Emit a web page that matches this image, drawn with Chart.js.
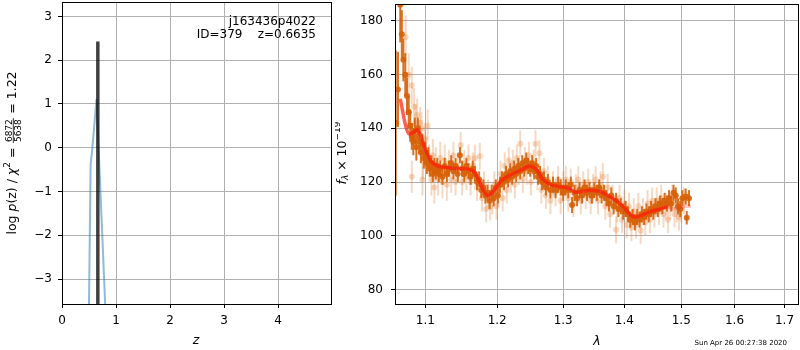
<!doctype html>
<html lang="en">
  <head>
    <meta charset="utf-8">
    <title>Redshift fit j163436p4022</title>
    <style>
      * { margin: 0; padding: 0; }
      body { width: 800px; height: 350px; background: #fff; position: relative; overflow: hidden; }
      canvas { position: absolute; top: 0; }
      #pz { left: 0; }
      #spec { left: 335px; }
    </style>
  </head>
  <body>
    <canvas id="pz" width="335" height="350"></canvas>
    <canvas id="spec" width="467" height="350"></canvas>
    <script src="https://cdn.jsdelivr.net/npm/chart.js"></script>
    <script>
    // ---- data: left panel, p(z)
    const zBest = 0.6635;
    const zBestPeak = 2.43;
    const pzZ = [0.49, 0.53, 0.555, 0.64, 0.81];
    const pzLogp = [-4.6, -0.37, -0.1, 1.12, -3.9];
    const pzXTicks = [0, 1, 2, 3, 4];
    const pzYTicks = [-3, -2, -1, 0, 1, 2, 3];

    // ---- data: right panel, spectrum
    const specXTicks = [1.1, 1.2, 1.3, 1.4, 1.5, 1.6, 1.7];
    const specYTicks = [80, 100, 120, 140, 160, 180];

    const modelLam = [1.067, 1.070, 1.074, 1.078, 1.083, 1.090, 1.099, 1.107, 1.116, 1.128, 1.146, 1.164,
      1.173, 1.180, 1.187, 1.197, 1.207, 1.222, 1.237, 1.247, 1.257, 1.267, 1.278, 1.293, 1.309, 1.320,
      1.336, 1.358, 1.375, 1.392, 1.403, 1.415, 1.427, 1.445, 1.463, 1.475];
    const modelFlux = [151, 146.5, 141, 138, 138.3, 139.3, 133, 128, 126, 125.4, 125, 124.4,
      121, 117, 115, 117.5, 120.7, 123, 124.7, 125.9, 125, 121.4, 119.3, 118.3, 117.7, 116.2,
      116.8, 116.6, 114.6, 112.1, 109.6, 107.1, 107.4, 109, 110, 110.8];
    const tailLam = [1.475, 1.487, 1.505, 1.518];
    const tailFlux = [110.8, 110, 110.9, 111];

    const darkLam = [1.0611, 1.064, 1.067, 1.069, 1.071, 1.0735, 1.0757, 1.078, 1.080, 1.082, 1.084, 1.086,
      1.088, 1.090, 1.092, 1.094, 1.096, 1.098, 1.100, 1.102, 1.104, 1.106, 1.108, 1.110, 1.112, 1.114,
      1.116, 1.118, 1.120, 1.123, 1.126, 1.129, 1.132, 1.135, 1.138, 1.141, 1.144, 1.147, 1.150, 1.153,
      1.156, 1.159, 1.162, 1.165, 1.168, 1.171, 1.174, 1.177, 1.180, 1.183, 1.186, 1.189, 1.192, 1.195,
      1.198, 1.201, 1.204, 1.207, 1.210, 1.213, 1.216, 1.219, 1.222, 1.225, 1.228, 1.231, 1.234, 1.237,
      1.240, 1.243, 1.246, 1.249, 1.252, 1.255, 1.258, 1.261, 1.264, 1.267, 1.270, 1.273, 1.276, 1.280,
      1.284, 1.288, 1.292, 1.296, 1.300, 1.304, 1.308, 1.312, 1.314, 1.318, 1.322, 1.326, 1.330, 1.334,
      1.338, 1.342, 1.346, 1.350, 1.354, 1.358, 1.362, 1.366, 1.370, 1.374, 1.378, 1.382, 1.386, 1.390,
      1.394, 1.398, 1.402, 1.406, 1.410, 1.414, 1.418, 1.422, 1.426, 1.430, 1.434, 1.438, 1.442, 1.446,
      1.450, 1.454, 1.458, 1.462, 1.466, 1.470, 1.474, 1.478, 1.482, 1.486, 1.490, 1.494, 1.498, 1.502,
      1.508, 1.510, 1.514];
    const darkFlux = [142, 154.5, 186, 175, 165.5, 160, 152, 146, 141, 137, 135, 139,
      133, 140, 135, 131, 134, 129, 131, 127, 129, 125, 127, 123, 126, 124,
      126, 123, 125, 122, 126, 123, 125, 127, 124, 126, 123, 130, 125, 123,
      126, 124, 122, 125, 123, 120, 121, 117, 118, 115, 116, 113, 116, 114,
      118, 115, 119, 121, 120, 123, 121, 124, 122, 125, 123, 126, 124, 127,
      125, 128, 126, 125, 127, 124, 126, 122, 123, 120, 121, 118, 120, 117,
      119, 117, 119, 118, 116, 118, 117, 119, 111.5, 116, 114, 117, 115, 118,
      116, 117, 115, 117, 116, 118, 115, 116, 114, 112, 115, 111, 113, 110,
      111, 109, 110, 108, 106, 107, 105, 107, 106, 108, 107, 109, 108, 110,
      109, 111, 110, 112, 111, 113, 112, 114, 112, 116, 115, 111, 110, 114,
      114.6, 106.7, 114];
    const darkErr = [27, 14, 14, 9, 8, 8, 7, 6, 6, 5, 5, 5,
      5, 4, 4, 4, 4, 4, 4, 4, 4, 3, 3, 3, 3, 3,
      3, 3, 3, 3, 3, 3, 3, 3, 3, 3, 3, 3, 3, 3,
      3, 3, 3, 3, 3, 3, 3, 3, 3, 3, 3, 3, 3, 3,
      3, 3, 3, 3, 3, 3, 3, 3, 3, 3, 3, 3, 3, 3,
      3, 3, 3, 3, 3, 3, 3, 3, 3, 3, 3, 3, 3, 3,
      3, 3, 3, 3, 3, 3, 3, 3, 3, 3, 3, 3, 3, 3,
      3, 3, 3, 3, 3, 3, 3, 3, 3, 3, 3, 3, 3, 3,
      3, 3, 3, 3, 3, 3, 3, 3, 3, 3, 3, 3, 3, 3,
      3, 3, 3, 3, 3, 3, 3, 3, 3, 3, 3, 3, 3, 3,
      3, 2.5, 3];

    const lightLam = [1.074, 1.078, 1.082, 1.082, 1.085, 1.087, 1.089, 1.091, 1.093, 1.095, 1.096, 1.097,
      1.099, 1.101, 1.103, 1.105, 1.108, 1.110, 1.112, 1.114, 1.117, 1.120, 1.123, 1.126, 1.129, 1.132,
      1.135, 1.138, 1.141, 1.144, 1.148, 1.150, 1.153, 1.156, 1.159, 1.162, 1.165, 1.168, 1.171, 1.175,
      1.178, 1.181, 1.184, 1.187, 1.190, 1.193, 1.196, 1.199, 1.202, 1.205, 1.208, 1.211, 1.214, 1.217,
      1.220, 1.223, 1.226, 1.229, 1.232, 1.234, 1.238, 1.241, 1.244, 1.247, 1.250, 1.254, 1.257, 1.260,
      1.263, 1.266, 1.270, 1.273, 1.276, 1.280, 1.284, 1.288, 1.292, 1.296, 1.300, 1.304, 1.308, 1.312,
      1.316, 1.320, 1.324, 1.328, 1.332, 1.336, 1.340, 1.344, 1.348, 1.352, 1.356, 1.360, 1.364, 1.368,
      1.372, 1.376, 1.380, 1.386, 1.388, 1.392, 1.396, 1.400, 1.404, 1.408, 1.412, 1.416, 1.420, 1.424,
      1.428, 1.432, 1.436, 1.440, 1.444, 1.448, 1.452, 1.456, 1.460, 1.464, 1.468, 1.472, 1.476, 1.480,
      1.484, 1.488, 1.492, 1.496, 1.500, 1.505];
    const lightFlux = [174, 160, 156, 122, 148, 142, 145, 137, 142, 140, 121, 128,
      136, 131, 141, 128, 121, 130, 118, 127, 121, 129, 120, 128, 119, 127,
      121, 130, 120, 126, 133.7, 120, 127, 122, 129, 120, 126, 129, 118, 129.6,
      114, 119, 110, 116, 110.7, 113, 119, 111, 116, 123, 114, 126, 117, 128,
      121, 127, 119, 129, 124, 134.3, 121, 128, 124, 130, 120, 127, 134.3, 122,
      130.7, 117, 124, 115, 121, 113, 119, 116, 121, 113, 119, 121, 114, 120,
      112, 118, 121, 113, 119, 115, 120, 113, 118, 121, 113, 119, 122, 111,
      118, 108, 114, 102.2, 110, 114, 106, 112, 104, 111, 103, 109, 104, 111,
      102, 109, 105, 112, 106, 113, 108, 113, 109, 114, 108, 111, 106, 111,
      114, 108, 110, 107, 110, 113];
    const lightErr = [8, 8, 7, 6, 7, 7, 6, 6, 6, 6, 6, 7,
      6, 6, 6, 6, 6, 6, 6, 6, 6, 6, 6, 6, 6, 5,
      5, 5, 5, 5, 5, 5, 5, 5, 5, 5, 5, 5, 5, 5,
      5, 5, 5, 5, 5, 5, 5, 5, 5, 5, 5, 5, 5, 5,
      5, 5, 5, 5, 5, 5, 5, 5, 5, 5, 5, 5, 5, 5,
      5, 5, 5, 5, 5, 5, 5, 5, 5, 5, 5, 5, 5, 5,
      5, 5, 5, 5, 5, 5, 5, 5, 5, 5, 5, 5, 5, 5,
      5, 5, 5, 5, 5, 5, 5, 5, 5, 5, 5, 5, 5, 5,
      5, 5, 5, 5, 5, 5, 5, 5, 5, 5, 5, 5, 5, 5,
      5, 5, 5, 5, 5, 5];

    const FONT = '"DejaVu Sans"';
    const DARK = 'rgba(214,96,8,0.9)';
    const LIGHT = 'rgba(228,118,40,0.28)';

    const zip = (xs, ys) => xs.map((x, i) => ({x: x, y: ys[i]}));
    const minus = v => (v < 0 ? '\u2212' + Math.abs(v) : String(v));

    // fixed axis box + explicit ticks, so the plot areas line up with the reference
    function axis(type, min, max, ticks, size, fmt, pad) {
      return {
        type: type, min: min, max: max,
        afterBuildTicks: s => { s.ticks = ticks.map(v => ({value: v})); },
        afterFit: s => {
          if (s.isHorizontal()) s.height = size; else s.width = size;
          s.paddingLeft = s.paddingRight = s.paddingTop = s.paddingBottom = 0;
        },
        grid: {color: '#b0b0b0', lineWidth: 1, tickColor: '#000', tickLength: 4},
        border: {color: '#000', width: 1},
        ticks: {color: '#000', font: {family: FONT, size: 12}, padding: pad, callback: fmt, maxRotation: 0, autoSkip: false}
      };
    }

    // mixed-style text (italic, sub/superscript, fraction), optionally rotated
    function richWidth(ctx, p) {
      if (p.num) {
        ctx.font = p.sz + 'px ' + FONT;
        return Math.max(ctx.measureText(p.num).width, ctx.measureText(p.den).width) + 3;
      }
      ctx.font = (p.it ? 'italic ' : '') + (p.sz || 12.5) + 'px ' + FONT;
      return ctx.measureText(p.t).width;
    }
    function drawRich(ctx, parts, cx, cy, rot) {
      ctx.save();
      ctx.translate(cx, cy);
      if (rot) ctx.rotate(-Math.PI / 2);
      const ws = parts.map(p => richWidth(ctx, p));
      let x = -ws.reduce((a, b) => a + b, 0) / 2;
      ctx.fillStyle = '#000';
      ctx.strokeStyle = '#000';
      ctx.textBaseline = 'middle';
      parts.forEach((p, i) => {
        if (p.num) {
          ctx.font = p.sz + 'px ' + FONT;
          ctx.textAlign = 'center';
          ctx.textBaseline = 'alphabetic';
          ctx.fillText(p.num, x + ws[i] / 2, -1.5);
          ctx.textBaseline = 'top';
          ctx.fillText(p.den, x + ws[i] / 2, 1.5);
          ctx.lineWidth = 0.8;
          ctx.beginPath();
          ctx.moveTo(x + 0.5, 0.3);
          ctx.lineTo(x + ws[i] - 0.5, 0.3);
          ctx.stroke();
          ctx.textBaseline = 'middle';
        } else {
          ctx.font = (p.it ? 'italic ' : '') + (p.sz || 12.5) + 'px ' + FONT;
          ctx.textAlign = 'left';
          ctx.fillText(p.t, x, p.dy || 0);
        }
        x += ws[i];
      });
      ctx.restore();
    }

    function frame(chart) {
      const {ctx, chartArea: a} = chart;
      ctx.save();
      ctx.strokeStyle = '#000';
      ctx.lineWidth = 1;
      ctx.strokeRect(Math.round(a.left) + 0.5, Math.round(a.top) + 0.5,
        Math.round(a.right - a.left), Math.round(a.bottom - a.top));
      ctx.restore();
    }

    const errorBars = {
      id: 'errorBars',
      beforeDatasetDraw(chart, args) {
        const ds = chart.data.datasets[args.index];
        if (!ds.errors) return;
        const {ctx, chartArea: a, scales: {x, y}} = chart;
        ctx.save();
        ctx.beginPath();
        ctx.rect(a.left, a.top, a.right - a.left, a.bottom - a.top);
        ctx.clip();
        ctx.strokeStyle = ds.errColor;
        ctx.lineWidth = ds.errWidth;
        ds.data.forEach((p, i) => {
          const px = x.getPixelForValue(p.x);
          ctx.beginPath();
          ctx.moveTo(px, y.getPixelForValue(p.y - ds.errors[i]));
          ctx.lineTo(px, y.getPixelForValue(p.y + ds.errors[i]));
          ctx.stroke();
        });
        ctx.restore();
      }
    };

    const pzText = {
      id: 'pzText',
      afterDraw(chart) {
        frame(chart);
        const ctx = chart.ctx;
        ctx.save();
        ctx.fillStyle = '#000';
        ctx.font = '12px ' + FONT;
        ctx.textAlign = 'right';
        ctx.textBaseline = 'alphabetic';
        ctx.fillText('j163436p4022', 316, 25);
        ctx.fillText('ID=379    z=0.6635', 316, 38);
        ctx.font = 'italic 12.5px ' + FONT;
        ctx.textAlign = 'center';
        ctx.fillText('z', 196, 344);
        ctx.restore();
        drawRich(ctx, [
          {t: 'log '}, {t: 'p', it: 1}, {t: '(z) / '}, {t: '\u03c7', it: 1},
          {t: '2', sz: 9, dy: -5}, {t: ' = '}, {num: '6872', den: '5638', sz: 9},
          {t: ' = 1.22'}
        ], 13, 153, true);
      }
    };

    const specText = {
      id: 'specText',
      afterDraw(chart) {
        frame(chart);
        const ctx = chart.ctx;
        ctx.save();
        ctx.fillStyle = '#000';
        ctx.font = 'italic 12.5px ' + FONT;
        ctx.textAlign = 'center';
        ctx.textBaseline = 'alphabetic';
        ctx.fillText('\u03bb', 262, 345);
        ctx.font = '7px ' + FONT;
        ctx.textAlign = 'right';
        ctx.fillText('Sun Apr 26 00:27:38 2020', 452, 345);
        ctx.restore();
        drawRich(ctx, [
          {t: 'f', it: 1}, {t: '\u03bb', it: 1, sz: 9, dy: 3}, {t: ' \u00d7 10'},
          {t: '\u221219', sz: 9, dy: -5}
        ], 8, 153, true);
      }
    };

    const common = {
      responsive: false,
      animation: false,
      events: [],
      plugins: {legend: {display: false}, tooltip: {enabled: false}}
    };

    new Chart(document.getElementById('pz'), {
      type: 'scatter',
      data: {
        datasets: [
          {data: zip([zBest, zBest], [-10, zBestPeak]), showLine: true, pointRadius: 0,
            borderColor: 'rgba(0,0,0,0.75)', borderWidth: 3.5, clip: 0},
          {data: zip(pzZ, pzLogp), showLine: true, pointRadius: 0,
            borderColor: 'rgba(31,119,180,0.5)', borderWidth: 2, clip: 0}
        ]
      },
      options: Object.assign({}, common, {
        layout: {padding: {top: 2, right: 4, left: 0, bottom: 0}},
        scales: {
          x: axis('linear', 0, 4.98, pzXTicks, 46, v => minus(v), 6),
          y: axis('linear', -3.57, 3.33, pzYTicks, 62, v => minus(v), 6)
        }
      }),
      plugins: [pzText]
    });

    new Chart(document.getElementById('spec'), {
      type: 'scatter',
      data: {
        datasets: [
          {data: zip(modelLam, modelFlux), showLine: true, pointRadius: 0, tension: 0.4,
            borderColor: 'rgba(255,25,10,0.7)', borderWidth: 3.5, clip: 0},
          {data: zip(tailLam, tailFlux), showLine: true, pointRadius: 0, tension: 0.4,
            borderColor: 'rgba(255,40,40,0.25)', borderWidth: 3.5, clip: 0},
          {data: zip(darkLam, darkFlux), pointRadius: 3, pointBorderWidth: 0,
            pointBackgroundColor: DARK, errors: darkErr, errColor: DARK, errWidth: 2, clip: 0},
          {data: zip(lightLam, lightFlux), pointRadius: 3, pointBorderWidth: 0,
            pointBackgroundColor: LIGHT, errors: lightErr, errColor: LIGHT, errWidth: 2, clip: 0}
        ]
      },
      options: Object.assign({}, common, {
        layout: {padding: {top: 2, right: 0, left: 0, bottom: 0}},
        scales: {
          x: axis('logarithmic', 1.0602, 1.728, specXTicks, 46, v => Number(v).toFixed(1), 6),
          y: axis('linear', 74.6, 186.3, specYTicks, 60, v => minus(v), 8)
        }
      }),
      plugins: [errorBars, specText]
    });
    </script>
  </body>
</html>
